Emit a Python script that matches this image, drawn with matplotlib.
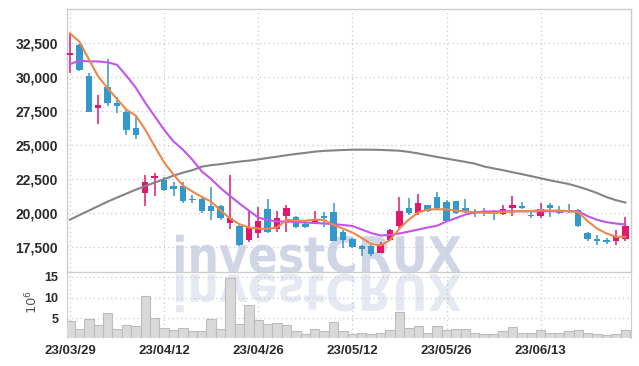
import numpy as np
import matplotlib
matplotlib.use('Agg')
import matplotlib.pyplot as plt
from matplotlib.textpath import TextPath
from matplotlib.patches import PathPatch
from matplotlib.font_manager import FontProperties
from matplotlib.transforms import Affine2D

# Daily prices
opens = [31620, 32330, 30060, 27690, 29250, 28100, 27370, 26250, 21430, 22530,
         22440, 22000, 22000, 21040, 21040, 20480, 20530, 19260, 19060, 17990,
         18480, 20310, 18820, 19750, 19700, 19210, 19210, 19750, 20040, 18610,
         18070, 17550, 17550, 17060, 17970, 19060, 20360, 20000, 20550, 21190,
         20770, 20900, 20370, 20160, 20110, 20070, 19910, 20370, 20530, 19870,
         19750, 20600, 20160, 20190, 20240, 18530, 18110, 17980, 17910, 18060]
highs = [33190, 32370, 30300, 28640, 31300, 28500, 27570, 27030, 22780, 22930,
         22660, 22270, 22270, 21340, 21100, 21900, 20600, 22800, 19100, 20240,
         20440, 21020, 20110, 20580, 19800, 19380, 20120, 20070, 20730, 18700,
         18140, 17670, 17600, 17850, 18800, 21170, 21090, 21390, 20600, 21530,
         20970, 20900, 20980, 20280, 20360, 20240, 20600, 21240, 20800, 20050,
         20730, 20730, 20480, 20650, 20270, 18620, 18400, 18160, 18770, 19690]
lows = [30300, 30425, 27370, 26540, 27860, 27330, 25730, 25420, 20530, 21260,
        21580, 21260, 20730, 20730, 20000, 19500, 19500, 18820, 17550, 17820,
        18130, 18530, 18570, 18570, 18900, 18870, 19140, 18920, 17900, 17430,
        17430, 16860, 16860, 17010, 17900, 18900, 19870, 19870, 20050, 20190,
        19380, 19900, 19950, 19690, 19790, 19500, 19850, 19740, 20310, 19630,
        19630, 19700, 19880, 20000, 18970, 17910, 17670, 17720, 17670, 17950]
closes = [31770, 30500, 27370, 27910, 28030, 27810, 26050, 25730, 22270, 22730,
          21700, 21750, 20850, 20920, 20110, 20110, 19630, 19630, 17600, 18970,
          19430, 18570, 19630, 20370, 18940, 18970, 19460, 19630, 17910, 18020,
          17490, 17360, 16940, 17730, 18750, 20110, 20010, 20730, 20110, 20370,
          19430, 20000, 20070, 20070, 20040, 19920, 20290, 20570, 20370, 19750,
          20290, 20370, 20000, 20110, 19060, 18070, 17910, 17860, 18260, 19060]

# moving averages as drawn
ma5 = [33190, 32570, 31280, 30010, 29160, 28350, 27570, 27130, 26100, 24880,
       23700, 22800, 22000, 21560, 21170, 20820, 20160, 19580, 19170, 18920,
       18840, 18820, 18920, 19480, 19430, 19410, 19500, 19470, 19100, 18840,
       18550, 18150, 17710, 17600, 18000, 18840, 19500, 20020, 20240, 20270,
       20240, 20160, 20090, 20040, 20000, 19980, 20050, 20090, 20130, 20130,
       20200, 20160, 20160, 20130, 20040, 19380, 18840, 18480, 18236, 18236]
ma20 = [30920, 31180, 31120, 31120, 31050, 30870, 30060, 29180, 28080, 27090,
        26100, 25240, 24640, 23900, 23040, 22480, 21810, 21240, 20680, 20160,
        19650, 19470, 19360, 19360, 19320, 19280, 19250, 19210, 19170, 19100,
        19030, 18770, 18510, 18330, 18370, 18480, 18620, 18770, 18920, 19050,
        19360, 19610, 19870, 20020, 20090, 20100, 20110, 20110, 20110, 20110,
        20110, 20110, 20110, 20110, 20110, 19750, 19480, 19310, 19210, 19140]
ma60 = [19500, 19830, 20160, 20490, 20820, 21120, 21410, 21700, 21960, 22220,
        22470, 22730, 22950, 23130, 23390, 23500, 23570, 23670, 23760, 23830,
        23920, 24030, 24120, 24230, 24320, 24400, 24490, 24550, 24580, 24610,
        24635, 24635, 24635, 24620, 24590, 24560, 24470, 24360, 24230, 24100,
        23980, 23860, 23740, 23610, 23400, 23260, 23130, 22980, 22840, 22690,
        22540, 22380, 22250, 22110, 21920, 21700, 21450, 21150, 20930, 20750]

# volume in millions
volume = [4.36, 2.43, 4.84, 3.40, 6.29, 2.43, 3.40, 3.16, 10.39, 5.08,
          2.67, 2.19, 2.67, 1.95, 1.95, 4.84, 2.43, 14.7, 3.71, 8.22,
          4.60, 3.71, 3.88, 3.40, 1.95, 1.23, 2.43, 1.95, 4.12, 1.90,
          1.06, 1.30, 1.06, 1.30, 2.02, 6.53, 2.67, 3.23, 1.30, 3.23,
          2.10, 2.50, 2.50, 1.30, 1.06, 1.06, 1.78, 2.90, 1.47, 1.47,
          2.26, 1.47, 1.30, 1.85, 2.02, 1.47, 1.06, 0.82, 1.06, 2.02]

tick_idx = [0, 10, 20, 30, 40, 50]
tick_labels = ['23/03/29', '23/04/12', '23/04/26', '23/05/12', '23/05/26', '23/06/13']
price_ticks = [17500, 20000, 22500, 25000, 27500, 30000, 32500]
price_labels = ['17,500', '20,000', '22,500', '25,000', '27,500', '30,000', '32,500']

UP = '#e2186e'
DOWN = '#3399cc'
GRID = '#c6cadb'
SPINE = '#cdcdcd'
LABEL_FONT = ['Liberation Sans', 'DejaVu Sans']

opens = np.array(opens)
closes = np.array(closes)
x = np.arange(len(opens))
up = closes >= opens
colors = np.where(up, UP, DOWN)

W, H = 639, 366
fig = plt.figure(figsize=(W / 100, H / 100), dpi=100)
left, right = 66.5, 631
ax = fig.add_axes([left / W, 1 - 272 / H, (right - left) / W, (272 - 9) / H])
axv = fig.add_axes([left / W, 1 - 338 / H, (right - left) / W, (338 - 272) / H], sharex=ax)
for a in (ax, axv):
    a.set_facecolor('none')

# watermark with reflection
fp = FontProperties(family='DejaVu Sans', weight='bold')
tp = TextPath((0, 0), 'investCRUX', size=100, prop=fp)
ext = tp.get_extents()
sx = (461 - 176) / ext.width
sy = (273.5 - 235) / ext.height
base = H - 273.5
wm = PathPatch(tp, facecolor='#d1d6e7', edgecolor='none', zorder=-5,
               transform=Affine2D().translate(-ext.x0, 0).scale(sx, sy).translate(176, base + 1))
wm_r = PathPatch(tp, facecolor='#e6e9f1', edgecolor='none', zorder=-5,
                 transform=Affine2D().translate(-ext.x0, 0).scale(sx, -sy).translate(176, base - 1))
fig.add_artist(wm_r)
fig.add_artist(wm)

# candles
ax.vlines(x, lows, highs, color=colors, linewidth=1.1, zorder=3)
body_h = np.maximum(np.abs(closes - opens), 60)
ax.bar(x, body_h, bottom=np.minimum(opens, closes), width=0.68, color=colors,
       linewidth=0, zorder=4)
ax.plot(x, ma60, color='#848484', linewidth=1.5, zorder=5)
ax.plot(x, ma20, color='#c356e8', linewidth=1.5, zorder=5)
ax.plot(x, ma5, color='#ef874b', linewidth=1.5, zorder=6)

ax.set_xlim(-0.37, 59.6)
ax.set_ylim(15650, 34970)
ax.set_yticks(price_ticks)
ax.set_yticklabels(price_labels)
ax.grid(True, linestyle=(0, (1, 2.5)), color=GRID, linewidth=0.9)
ax.tick_params(axis='y', length=0, pad=6, labelsize=10, labelcolor='#2b2b2b')
ax.tick_params(axis='x', length=0, labelbottom=False)
for lab in ax.get_yticklabels():
    lab.set_family(LABEL_FONT)
    lab.set_weight('bold')
for s in ax.spines.values():
    s.set_color(SPINE)
    s.set_linewidth(1)

# volume
axv.bar(x, volume, width=1.0, color='#d9d9d9', edgecolor='#bdbdbd', linewidth=0.8, zorder=3)
axv.set_ylim(0.2, 16.2)
axv.set_yticks([5, 10, 15])
axv.set_xticks(tick_idx)
axv.set_xticklabels(tick_labels)
axv.grid(True, linestyle=(0, (1, 2.5)), color=GRID, linewidth=0.9)
axv.tick_params(axis='y', length=0, pad=6, labelsize=9, labelcolor='#2b2b2b')
axv.tick_params(axis='x', length=0, pad=5, labelsize=9.5, labelcolor='#2b2b2b')
for lab in axv.get_yticklabels() + axv.get_xticklabels():
    lab.set_family(LABEL_FONT)
    lab.set_weight('bold')
for s in axv.spines.values():
    s.set_color(SPINE)
axv.spines['top'].set_visible(False)
axv.spines['bottom'].set_visible(False)
fig.text(32 / W, 1 - 302 / H, r'$10^6$', rotation=90, ha='center', va='center',
         fontsize=9.5, color='#555555')

fig.savefig('out.png', dpi=100)
